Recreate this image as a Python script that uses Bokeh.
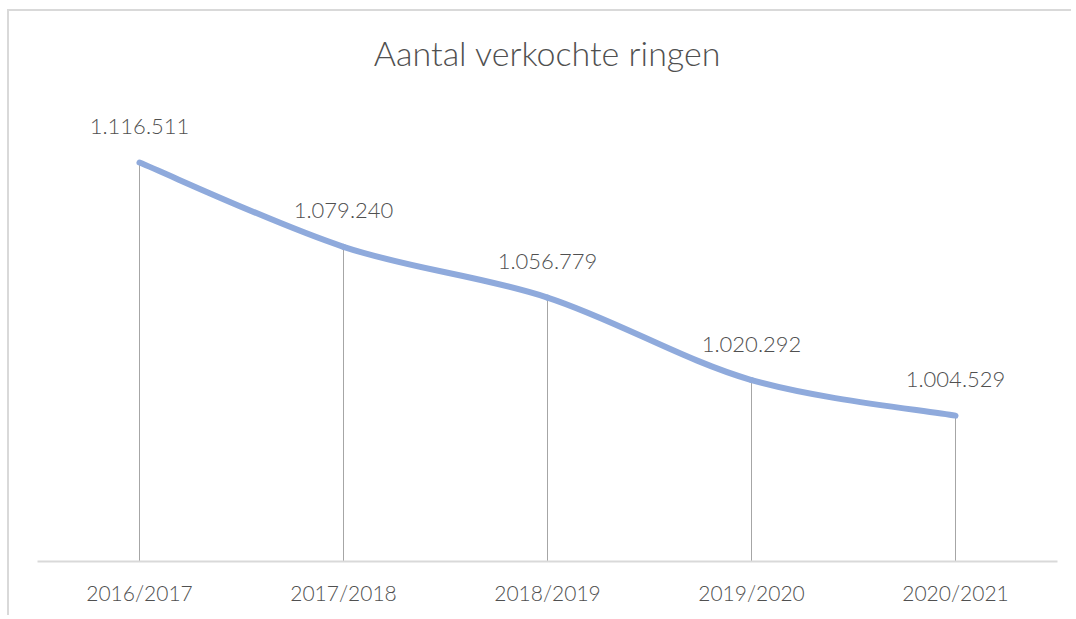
import numpy as np
from bokeh.plotting import figure
from bokeh.models import Range1d, FixedTicker, ColumnDataSource, LabelSet
from bokeh.core.properties import value
from bokeh.embed import file_html
from bokeh.resources import INLINE

# ---- data ----
categories = ["2016/2017", "2017/2018", "2018/2019", "2019/2020", "2020/2021"]
values = [1116511, 1079240, 1056779, 1020292, 1004529]
title_text = "Aantal verkochte ringen"
y_min, y_max = 940000, 1140000

FONT = "Lato Light"
TEXT_COLOR = "#505050"
LINE_COLOR = "#8faadc"

xs = np.arange(len(values), dtype=float)
ys = np.array(values, dtype=float)
labels = [f"{v:,}".replace(",", ".") for v in values]

# Excel-style smoothed line: Bezier segments (Catmull-Rom style control points)
n = len(xs)
def pt(i):
    i = min(max(i, 0), n - 1)
    return xs[i], ys[i]

x0s, y0s, x1s, y1s, cx0s, cy0s, cx1s, cy1s = ([] for _ in range(8))
for i in range(n - 1):
    pxm, pym = pt(i - 1)
    px0, py0 = pt(i)
    px1, py1 = pt(i + 1)
    px2, py2 = pt(i + 2)
    x0s.append(px0); y0s.append(py0)
    x1s.append(px1); y1s.append(py1)
    cx0s.append(px0 + (px1 - pxm) / 6.0); cy0s.append(py0 + (py1 - pym) / 6.0)
    cx1s.append(px1 - (px2 - px0) / 6.0); cy1s.append(py1 - (py2 - py0) / 6.0)

p = figure(width=1064, height=606,
           x_range=Range1d(-0.5, len(values) - 0.5),
           y_range=Range1d(y_min, y_max),
           output_backend="svg", toolbar_location=None,
           min_border_left=28, min_border_right=16,
           min_border_top=98, min_border_bottom=56)
p.styles = {"border-left": "2px solid #d9d9d9", "border-top": "2px solid #d9d9d9",
            "margin-left": "7px", "margin-top": "9px"}

p.title.text = title_text
p.title.align = "center"
p.title.vertical_align = "bottom"
p.title.text_font = FONT
p.title.text_font_size = "34px"
p.title.text_font_style = "normal"
p.title.text_color = TEXT_COLOR
p.title.standoff = 0
p.title.padding = dict(left=0, right=0, top=0, bottom=37)

p.outline_line_color = None
p.xgrid.visible = False
p.ygrid.visible = False
p.yaxis.visible = False

ax = p.xaxis[0]
ax.ticker = FixedTicker(ticks=list(range(len(categories))))
ax.major_label_overrides = {i: c for i, c in enumerate(categories)}
ax.major_tick_line_color = None
ax.minor_tick_line_color = None
ax.axis_line_color = "#d9d9d9"
ax.axis_line_width = 2
ax.major_label_text_font = FONT
ax.major_label_text_font_size = "21px"
ax.major_label_text_color = TEXT_COLOR
ax.major_label_standoff = 12

# drop lines
p.segment(x0=xs, y0=[y_min] * n, x1=xs, y1=ys, line_color="#a6a6a6", line_width=1)

# smoothed line
p.bezier(x0=x0s, y0=y0s, x1=x1s, y1=y1s, cx0=cx0s, cy0=cy0s, cx1=cx1s, cy1=cy1s,
         line_color=LINE_COLOR, line_width=6, line_cap="round")

src = ColumnDataSource(dict(x=xs, y=ys, label=labels))
p.add_layout(LabelSet(x="x", y="y", text="label", source=src,
                      text_align="center", text_baseline="middle", y_offset=36,
                      text_font=value(FONT), text_font_size="22px",
                      text_color=TEXT_COLOR))

open("out.html", "w").write(file_html(p, INLINE))
